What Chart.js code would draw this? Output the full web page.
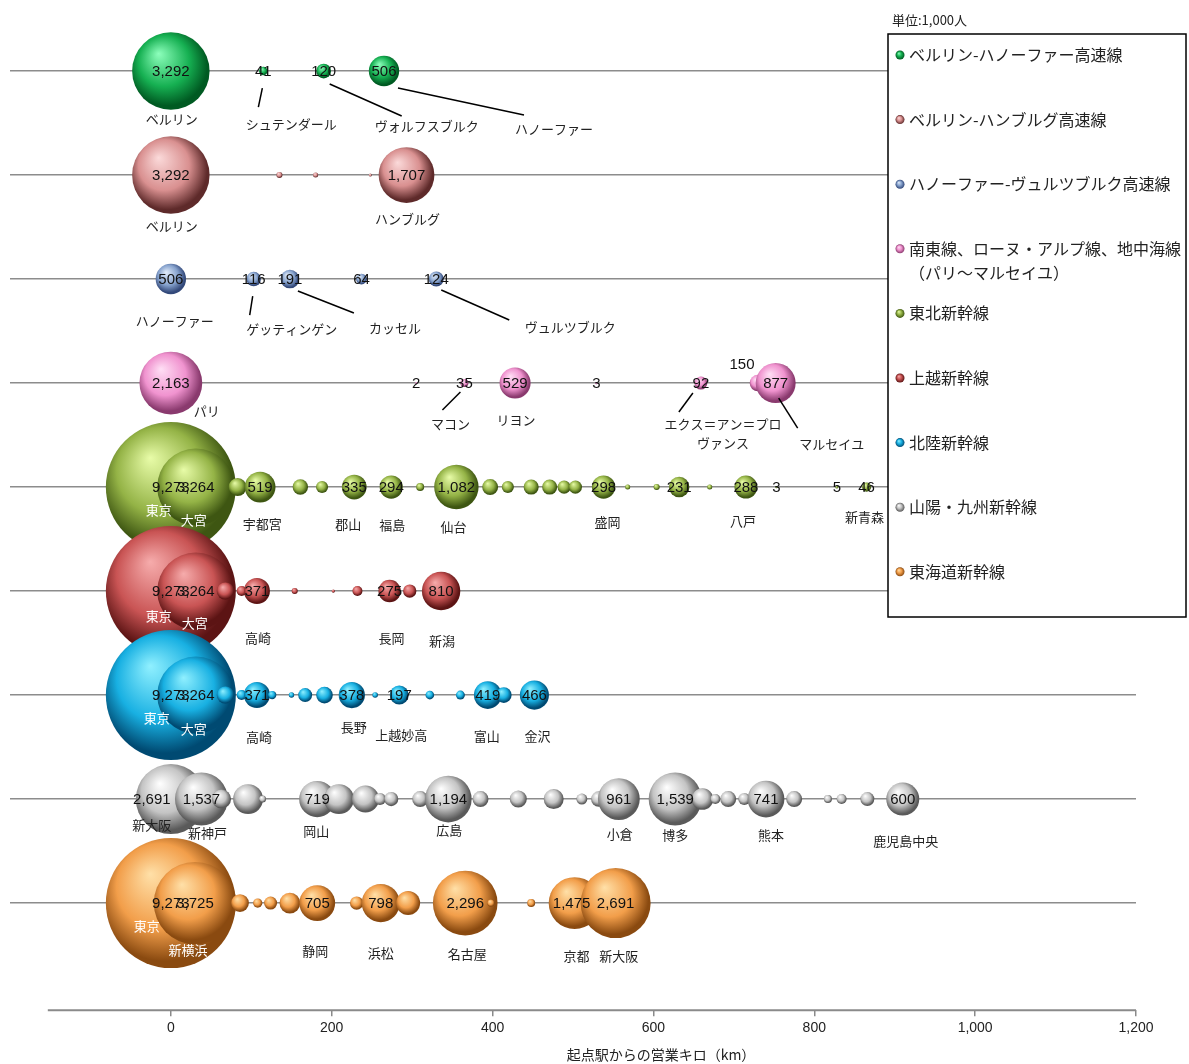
<!DOCTYPE html>
<html lang="ja">
<head>
<meta charset="utf-8">
<script src="https://cdn.jsdelivr.net/npm/chart.js@4.4.1/dist/chart.umd.min.js"></script>
<style>
  html, body { margin: 0; padding: 0; background: #fff; }
  #wrap { position: relative; width: 1189px; height: 1064px; }
</style>
</head>
<body>
<div id="wrap"><canvas id="chart"></canvas></div>
<script>
// 路線名（凡例）
const lineNames = [
  'ベルリン-ハノーファー高速線',
  'ベルリン-ハンブルグ高速線',
  'ハノーファー-ヴュルツブルク高速線',
  '南東線、ローヌ・アルプ線、地中海線\n（パリ～マルセイユ）',
  '東北新幹線',
  '上越新幹線',
  '北陸新幹線',
  '山陽・九州新幹線',
  '東海道新幹線'
];

// 各路線：起点からの営業キロ / 乗車人員(千人) / 駅名 / 値ラベルを出す駅
const bhKm = [0, 115, 190, 265];
const bhVal = [3292, 41, 120, 506];
const bhName = ['ベルリン', 'シュテンダール', 'ヴォルフスブルク', 'ハノーファー'];
const bhShown = [0, 1, 2, 3];

const bhhKm = [0, 135, 180, 248, 293];
const bhhVal = [3292, 20, 14, 5, 1707];
const bhhName = ['ベルリン', '', '', '', 'ハンブルグ'];
const bhhShown = [0, 4];

const hwKm = [0, 103, 148, 237, 330];
const hwVal = [506, 116, 191, 64, 124];
const hwName = ['ハノーファー', 'ゲッティンゲン', 'カッセル', '', 'ヴュルツブルク'];
const hwShown = [0, 1, 2, 3, 4];

const pmKm = [0, 305, 365, 428, 529, 659, 730, 752];
const pmVal = [2163, 2, 35, 529, 3, 92, 150, 877];
const pmName = ['パリ', '', 'マコン', 'リヨン', '', 'エクス＝アン＝プロ\nヴァンス', '', 'マルセイユ'];
const pmShown = [0, 1, 2, 3, 4, 5, 6, 7];

const tohokuKm = [0, 31, 83, 111, 161, 188, 228, 274, 310, 355, 397, 419, 448, 471, 489, 503, 538, 568, 604, 632, 670, 715, 753, 828, 865];
const tohokuVal = [9273, 3264, 178, 519, 130, 80, 335, 294, 35, 1082, 140, 80, 125, 125, 95, 95, 298, 14, 20, 231, 14, 288, 3, 5, 46];
const tohokuName = ['東京', '大宮', '', '宇都宮', '', '', '郡山', '福島', '', '仙台', '', '', '', '', '', '', '盛岡', '', '', '', '', '八戸', '', '', '新青森'];
const tohokuShown = [0, 1, 3, 6, 7, 9, 16, 19, 21, 22, 23, 24];

const joetsuKm = [0, 31, 68, 88, 107, 154, 202, 232, 272, 297, 336];
const joetsuVal = [9273, 3264, 170, 55, 371, 20, 6, 55, 275, 98, 810];
const joetsuName = ['東京', '大宮', '', '', '高崎', '', '', '', '長岡', '', '新潟'];
const joetsuShown = [0, 1, 4, 8, 10];

const hokurikuKm = [0, 31, 68, 88, 107, 126, 150, 167, 191, 225, 254, 284, 322, 360, 394, 414, 452];
const hokurikuVal = [9273, 3264, 170, 55, 371, 38, 16, 107, 152, 378, 17, 197, 41, 44, 419, 134, 466];
const hokurikuName = ['東京', '大宮', '', '', '高崎', '', '', '', '', '長野', '', '上越妙高', '', '', '富山', '', '金沢'];
const hokurikuShown = [0, 1, 4, 9, 11, 14, 16];

const sanyoKm = [0, 38, 63, 96, 114, 182, 209, 242, 260, 274, 310, 345, 385, 432, 476, 511, 532, 557, 627, 661, 677, 693, 713, 740, 775, 817, 834, 866, 910];
const sanyoVal = [2691, 1537, 200, 490, 27, 719, 490, 400, 80, 110, 140, 1194, 140, 160, 220, 66, 130, 961, 1539, 256, 55, 140, 80, 741, 140, 35, 55, 107, 600];
const sanyoName = ['新大阪', '新神戸', '', '', '', '岡山', '', '', '', '', '', '広島', '', '', '', '', '', '小倉', '博多', '', '', '', '', '熊本', '', '', '', '', '鹿児島中央'];
const sanyoShown = [0, 1, 5, 11, 17, 18, 23, 28];

const tokaidoKm = [0, 30, 86, 108, 124, 148, 182, 231, 261, 295, 366, 398, 448, 502, 553];
const tokaidoVal = [9273, 3725, 173, 47, 93, 237, 705, 98, 798, 316, 2296, 30, 35, 1475, 2691];
const tokaidoName = ['東京', '新横浜', '', '', '', '', '静岡', '', '浜松', '', '名古屋', '', '', '京都', '新大阪'];
const tokaidoShown = [0, 1, 6, 8, 10, 13, 14];

const xTicks = [0, 200, 400, 600, 800, 1000, 1200];

const lines = [
  { km: bhKm, val: bhVal, name: bhName, shown: bhShown },
  { km: bhhKm, val: bhhVal, name: bhhName, shown: bhhShown },
  { km: hwKm, val: hwVal, name: hwName, shown: hwShown },
  { km: pmKm, val: pmVal, name: pmName, shown: pmShown },
  { km: tohokuKm, val: tohokuVal, name: tohokuName, shown: tohokuShown },
  { km: joetsuKm, val: joetsuVal, name: joetsuName, shown: joetsuShown },
  { km: hokurikuKm, val: hokurikuVal, name: hokurikuName, shown: hokurikuShown },
  { km: sanyoKm, val: sanyoVal, name: sanyoName, shown: sanyoShown },
  { km: tokaidoKm, val: tokaidoVal, name: tokaidoName, shown: tokaidoShown }
];

// 見た目の設定
const palettes = [
  { light: '#8dffbc', base: '#16b052', dark: '#005a22' },
  { light: '#fbdada', base: '#d99090', dark: '#5e2a2a' },
  { light: '#e2ecfa', base: '#86a2cd', dark: '#33497a' },
  { light: '#ffdff5', base: '#f093cf', dark: '#8a3a6e' },
  { light: '#e8fca8', base: '#94b346', dark: '#3e5612' },
  { light: '#f6acac', base: '#c95454', dark: '#5c1414' },
  { light: '#90f0ff', base: '#18b0e2', dark: '#004a72' },
  { light: '#ffffff', base: '#c4c4c4', dark: '#5a5a5a' },
  { light: '#ffe0a8', base: '#f29e4a', dark: '#8a4a10' }
];
const bubbleScale = 0.675; // px per sqrt(千人)

// 駅名ラベル位置（バブル中心からのpx）[idx, dx, dy, 白文字, 引出線]
const nameLayout = [
  [[0, 1, 48], [1, 28, 53, false, [-1, 17, -5, 36]], [2, 103, 55, false, [6, 13, 78, 45]], [3, 170, 58, false, [14, 17, 140, 44]]],
  [[0, 1, 51], [4, 1, 44]],
  [[0, 4, 42], [1, 38, 50, false, [-1, 17, -4, 36]], [2, 105, 49, false, [8, 12, 64, 34]], [4, 134, 48, false, [5, 11, 73, 41]]],
  [[0, 36, 28], [2, -14, 41, false, [-4, 9, -22, 27]], [3, 1, 37], [5, 22, 41, false, [-8, 10, -22, 29]], [7, 56, 61, false, [3, 15, 22, 45]]],
  [[0, -12, 23, true], [1, -2, 33, true], [3, 2, 37], [6, -6, 37], [7, 1, 38], [9, -3, 40], [16, 4, 35], [21, -3, 34], [24, -2, 30]],
  [[0, -12, 25, true], [1, -1, 32, true], [4, 1, 47], [8, 2, 47], [10, 1, 50]],
  [[0, -14, 23, true], [1, -2, 34, true], [4, 2, 42], [9, 2, 32], [11, 2, 40], [14, -1, 41], [16, 3, 41]],
  [[0, -19, 26], [1, 6, 34], [5, -1, 32], [11, 1, 31], [17, 1, 35], [18, 0, 36], [23, 5, 36], [28, 3, 42]],
  [[0, -24, 23, true], [1, -7, 47, true], [6, -2, 48], [8, 0, 50], [10, 2, 51], [13, 2, 53], [14, 3, 53]]
];
// 値ラベルのずれ（行:駅 → [dx, dy]）
const valueShift = { '3:6': [-16, -19], '7:0': [-19, 0], '8:13': [-3, 0] };

const ROWS = lines.length;
const rowY = i => ROWS - i;
const fmt = v => v.toLocaleString('en-US');

function sphere(context, pal) {
  const chart = context.chart;
  const raw = context.raw;
  if (!chart.chartArea || !raw) return pal.base;
  const px = chart.scales.x.getPixelForValue(raw.x);
  const py = chart.scales.y.getPixelForValue(raw.y);
  const r = Math.max(raw.r, 0.5);
  const g = chart.ctx.createRadialGradient(px - r * 0.32, py - r * 0.45, 0, px - r * 0.08, py - r * 0.12, r * 1.13);
  g.addColorStop(0, pal.light);
  g.addColorStop(0.58, pal.base);
  g.addColorStop(0.92, pal.dark);
  g.addColorStop(1, pal.dark);
  return g;
}

const datasets = lines.map((ln, i) => ({
  label: lineNames[i],
  order: ROWS - i,
  data: ln.km.map((k, j) => ({ x: k, y: rowY(i), r: bubbleScale * Math.sqrt(ln.val[j]) })),
  backgroundColor: ctx => sphere(ctx, palettes[i]),
  borderWidth: 0,
  hoverRadius: 0,
  clip: false
}));

const overlay = {
  id: 'overlay',
  afterDatasetsDraw(chart) {
    const { ctx, scales: { x, y } } = chart;
    ctx.save();
    // 値ラベル
    ctx.font = '15px "Liberation Sans", Arial, sans-serif';
    ctx.textAlign = 'center';
    ctx.textBaseline = 'middle';
    ctx.fillStyle = '#111';
    lines.forEach((ln, i) => {
      ln.shown.forEach(j => {
        const sh = valueShift[i + ':' + j] || [0, 0];
        ctx.fillText(fmt(ln.val[j]), x.getPixelForValue(ln.km[j]) + sh[0], y.getPixelForValue(rowY(i)) + sh[1] + 1);
      });
    });
    // 駅名と引出線
    ctx.font = '13px "Noto Sans CJK JP", sans-serif';
    nameLayout.forEach((row, i) => {
      const ln = lines[i];
      const cy = y.getPixelForValue(rowY(i));
      row.forEach(([j, dx, dy, white, lead]) => {
        const cx = x.getPixelForValue(ln.km[j]);
        if (lead) {
          ctx.strokeStyle = '#000';
          ctx.lineWidth = 1.5;
          ctx.beginPath();
          ctx.moveTo(cx + lead[0], cy + lead[1]);
          ctx.lineTo(cx + lead[2], cy + lead[3]);
          ctx.stroke();
        }
        ctx.fillStyle = white ? '#fff' : '#222';
        ln.name[j].split('\n').forEach((t, k) => {
          ctx.fillText(t, cx + dx, cy + dy + k * 19);
        });
      });
    });
    ctx.restore();
  },
  afterDraw(chart) {
    const { ctx, chartArea, scales: { x } } = chart;
    ctx.save();
    // 横軸の線
    ctx.strokeStyle = '#8a8a8a';
    ctx.lineWidth = 2;
    ctx.beginPath();
    ctx.moveTo(x.getPixelForValue(-153), chartArea.bottom);
    ctx.lineTo(x.getPixelForValue(1200), chartArea.bottom);
    ctx.stroke();
    // 軸タイトル
    ctx.fillStyle = '#222';
    ctx.font = '14px "Noto Sans CJK JP", sans-serif';
    ctx.textAlign = 'center';
    ctx.textBaseline = 'middle';
    ctx.fillText('起点駅からの営業キロ（km）', 661, 1055);
    // 単位
    ctx.font = '13px "Noto Sans CJK JP", sans-serif';
    ctx.textAlign = 'left';
    ctx.fillText('単位:1,000人', 892, 20);
    // 凡例
    const L = 888, T = 34, W = 298, H = 583;
    ctx.fillStyle = '#fff';
    ctx.fillRect(L, T, W, H);
    ctx.strokeStyle = '#000';
    ctx.lineWidth = 1.5;
    ctx.strokeRect(L, T, W, H);
    ctx.font = '16px "Noto Sans CJK JP", sans-serif';
    lineNames.forEach((nm, i) => {
      const ly = 55 + i * 64.6;
      const pal = palettes[i];
      const g = ctx.createRadialGradient(900 - 1.3, ly - 1.8, 0, 900, ly, 4.5);
      g.addColorStop(0, pal.light);
      g.addColorStop(0.5, pal.base);
      g.addColorStop(1, pal.dark);
      ctx.fillStyle = g;
      ctx.beginPath();
      ctx.arc(900, ly, 4.5, 0, Math.PI * 2);
      ctx.fill();
      ctx.fillStyle = '#222';
      nm.split('\n').forEach((t, k) => ctx.fillText(t, 909, ly + k * 24));
    });
    ctx.restore();
  }
};

new Chart(document.getElementById('chart'), {
  type: 'bubble',
  data: { datasets },
  options: {
    responsive: true,
    maintainAspectRatio: false,
    animation: false,
    events: [],
    layout: { autoPadding: false, padding: { left: 10, right: 53, top: 0, bottom: 23 } },
    plugins: { legend: { display: false }, tooltip: { enabled: false } },
    scales: {
      x: {
        type: 'linear',
        min: -200,
        max: 1200,
        afterBuildTicks: s => { s.ticks = xTicks.map(v => ({ value: v })); },
        ticks: {
          padding: 4,
          color: '#222',
          font: { family: '"Liberation Sans", Arial, sans-serif', size: 14 },
          callback: v => fmt(v),
          maxRotation: 0
        },
        grid: { drawOnChartArea: false, tickLength: 6, color: '#8a8a8a', lineWidth: 1.5 },
        border: { display: false }
      },
      y: {
        type: 'linear',
        min: -0.03,
        max: 9.683,
        afterBuildTicks: s => { s.ticks = lines.map((_, i) => ({ value: rowY(i) })); },
        ticks: { display: false },
        grid: { drawTicks: false, color: '#8c8c8c', lineWidth: 1.5 },
        border: { display: false }
      }
    }
  },
  plugins: [overlay]
});
</script>
</body>
</html>
